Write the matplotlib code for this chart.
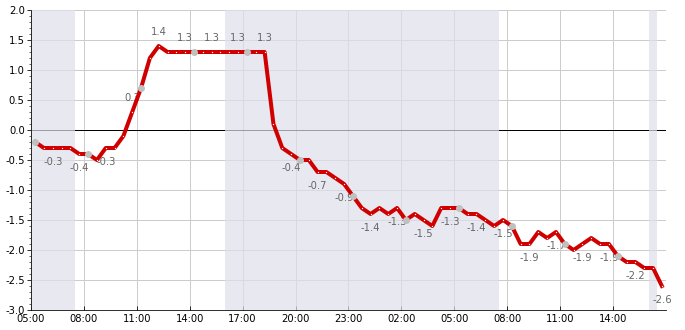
import matplotlib
matplotlib.use("Agg")
import matplotlib.pyplot as plt
import matplotlib.dates as mdates
from matplotlib.ticker import MultipleLocator, FormatStrFormatter
import numpy as np
import pandas as pd

# half-hourly values, 05:15 day 1 .. 16:45 day 2
start = "2024-01-01 05:15"
values = [
    -0.2, -0.3, -0.3, -0.3, -0.3, -0.4, -0.4, -0.5, -0.3, -0.3,
    -0.1, 0.3, 0.7, 1.2, 1.4, 1.3, 1.3, 1.3, 1.3, 1.3,
    1.3, 1.3, 1.3, 1.3, 1.3, 1.3, 1.3, 0.1, -0.3, -0.4,
    -0.5, -0.5, -0.7, -0.7, -0.8, -0.9, -1.1, -1.3, -1.4, -1.3,
    -1.4, -1.3, -1.5, -1.4, -1.5, -1.6, -1.3, -1.3, -1.3, -1.4,
    -1.4, -1.5, -1.6, -1.5, -1.6, -1.9, -1.9, -1.7, -1.8, -1.7,
    -1.9, -2.0, -1.9, -1.8, -1.9, -1.9, -2.1, -2.2, -2.2, -2.3,
    -2.3, -2.6,
]
times = pd.date_range(start, periods=len(values), freq="30min")

# night shading (start, end)
night_spans = [
    ("2024-01-01 05:00", "2024-01-01 07:30"),
    ("2024-01-01 16:00", "2024-01-02 07:30"),
    ("2024-01-02 16:00", "2024-01-02 16:30"),
]
x_range = ("2024-01-01 05:00", "2024-01-02 16:59")

plt.rcParams["font.family"] = "DejaVu Sans"
plt.rcParams["font.size"] = 10

fig = plt.figure(figsize=(685 / 72, 330 / 72), dpi=72)
ax = fig.add_axes([30.7 / 685, 20 / 330, (666 - 30.7) / 685, 300 / 330])

ax.grid(True, color="#cccccc", linewidth=1, zorder=0)
ax.set_axisbelow(True)
ax.axhline(0, color="black", linewidth=1, zorder=1)

for s, e in night_spans:
    ax.axvspan(pd.Timestamp(s), pd.Timestamp(e), facecolor="#dfe0ea",
               alpha=0.7, linewidth=0, zorder=2)

vals = np.array(values)
ax.plot(times, vals, color="#d00000", linewidth=4, zorder=4)
ax.plot(times, vals, linestyle="none", marker="o", markersize=1.3,
        markerfacecolor="white", markeredgewidth=0, zorder=5)
ax.plot(times[::6], vals[::6], linestyle="none", marker="o", markersize=7,
        markerfacecolor="#c0c0c0", markeredgewidth=0, zorder=6)

for t, v in zip(times[2::3], vals[2::3]):
    off = 14 if v > 0 else -14
    ax.annotate(f"{v:.1f}", (t, v), xytext=(0, off), textcoords="offset pixels",
                ha="center", va="center", color="#666666", fontsize=10, zorder=3)

ax.set_xlim(pd.Timestamp(x_range[0]), pd.Timestamp(x_range[1]))
ax.set_ylim(-3, 2)
ax.yaxis.set_major_locator(MultipleLocator(0.5))
ax.yaxis.set_minor_locator(MultipleLocator(0.1))
ax.yaxis.set_major_formatter(FormatStrFormatter("%.1f"))
ax.xaxis.set_major_locator(mdates.HourLocator(byhour=range(2, 24, 3)))
ax.xaxis.set_major_formatter(mdates.DateFormatter("%H:%M"))
ax.tick_params(axis="x", direction="in", length=4, pad=4)
ax.tick_params(axis="y", which="major", direction="out", length=4, pad=2)
ax.tick_params(axis="y", which="minor", direction="out", length=2)

ax.spines["top"].set_visible(False)
ax.spines["right"].set_visible(False)

fig.savefig("out.png", dpi=72)
